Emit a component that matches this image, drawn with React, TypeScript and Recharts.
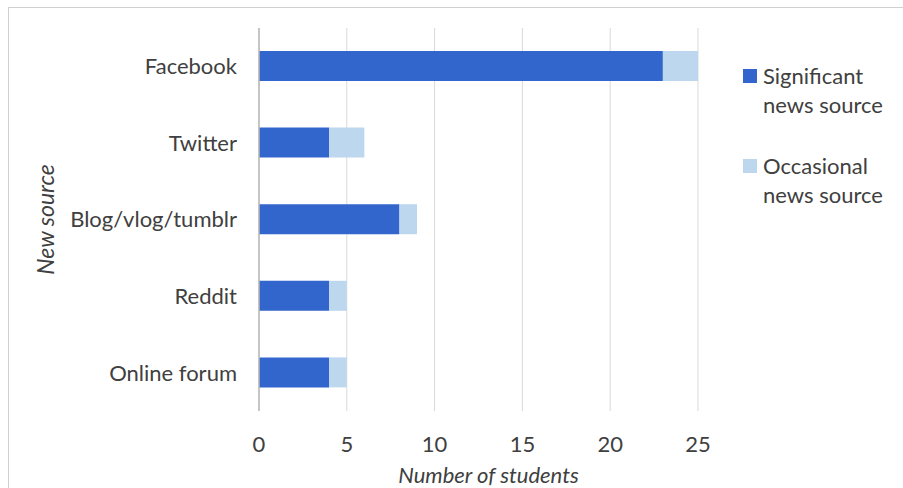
import { BarChart, Bar, XAxis, YAxis, CartesianGrid } from "recharts";

const sources = ["Facebook", "Twitter", "Blog/vlog/tumblr", "Reddit", "Online forum"];
const significant = [23, 4, 8, 4, 4];
const occasional = [2, 2, 1, 1, 1];
const xTicks = [0, 5, 10, 15, 20, 25];

const DARK = "#3366cc";
const LIGHT = "#bdd7ee";
const TEXT = "#404040";
const FONT = "Lato, 'Open Sans', sans-serif";
const FS = 22;

const legendItems = [
  { lines: ["Significant", "news source"], color: DARK },
  { lines: ["Occasional", "news source"], color: LIGHT },
];

const data = sources.map((name, i) => ({
  name,
  significant: significant[i],
  occasional: occasional[i],
}));

function LegendBox() {
  return (
    <div
      style={{
        position: "absolute",
        left: 743,
        top: 61,
        fontFamily: FONT,
        fontSize: FS,
        color: TEXT,
        lineHeight: "29px",
      }}
    >
      {legendItems.map((item) => (
        <div key={item.lines[0]} style={{ position: "relative", paddingLeft: 20, marginBottom: 32 }}>
          <span
            style={{
              position: "absolute",
              left: 0,
              top: 8,
              width: 14,
              height: 14,
              background: item.color,
            }}
          />
          {item.lines.map((l) => (
            <div key={l}>{l}</div>
          ))}
        </div>
      ))}
    </div>
  );
}

export default function App() {
  return (
    <div style={{ position: "fixed", left: 0, top: 0, width: 903, height: 488, overflow: "hidden", background: "#fff" }}>
      {/* outer frame, only top and left edges visible */}
      <div
        style={{
          position: "absolute",
          left: 8,
          top: 7,
          width: 900,
          height: 490,
          borderTop: "1px solid #d0d0d0",
          borderLeft: "1px solid #d0d0d0",
          boxSizing: "border-box",
        }}
      />
      <div style={{ position: "absolute", left: 0, top: 0 }}>
        <BarChart
          width={903}
          height={488}
          data={data}
          layout="vertical"
          margin={{ top: 28, right: 205, bottom: 0, left: 0 }}
          barSize={30}
        >
          <CartesianGrid horizontal={false} stroke="#d9d9d9" />
          <XAxis
            type="number"
            domain={[0, 25]}
            ticks={xTicks}
            axisLine={false}
            tickLine={false}
            tickSize={0}
            tickMargin={25}
            height={77}
            tick={{ fill: TEXT, fontSize: FS, fontFamily: FONT }}
            label={{
              content: ({ viewBox }: any) => (
                <text
                  x={viewBox.x + viewBox.width / 2 + 10}
                  y={viewBox.y + 72}
                  textAnchor="middle"
                  fill={TEXT}
                  fontSize={FS}
                  fontStyle="italic"
                  fontFamily={FONT}
                >
                  Number of students
                </text>
              ),
            }}
          />
          <YAxis
            type="category"
            dataKey="name"
            width={259}
            axisLine={{ stroke: "#b8b8b8", strokeWidth: 1.5 }}
            tickLine={false}
            tickSize={0}
            tickMargin={22}
            tick={{ fill: TEXT, fontSize: FS, fontFamily: FONT }}
            label={{
              content: ({ viewBox }: any) => {
                const cx = viewBox.x + 45;
                const cy = viewBox.y + viewBox.height / 2;
                return (
                  <text
                    x={cx}
                    y={cy}
                    transform={`rotate(-90 ${cx} ${cy})`}
                    textAnchor="middle"
                    dominantBaseline="central"
                    fill={TEXT}
                    fontSize={FS + 1}
                    fontStyle="italic"
                    fontFamily={FONT}
                  >
                    New source
                  </text>
                );
              },
            }}
          />
          <Bar dataKey="significant" stackId="a" fill={DARK} isAnimationActive={false} />
          <Bar dataKey="occasional" stackId="a" fill={LIGHT} isAnimationActive={false} />
        </BarChart>
      </div>
      <LegendBox />
    </div>
  );
}
